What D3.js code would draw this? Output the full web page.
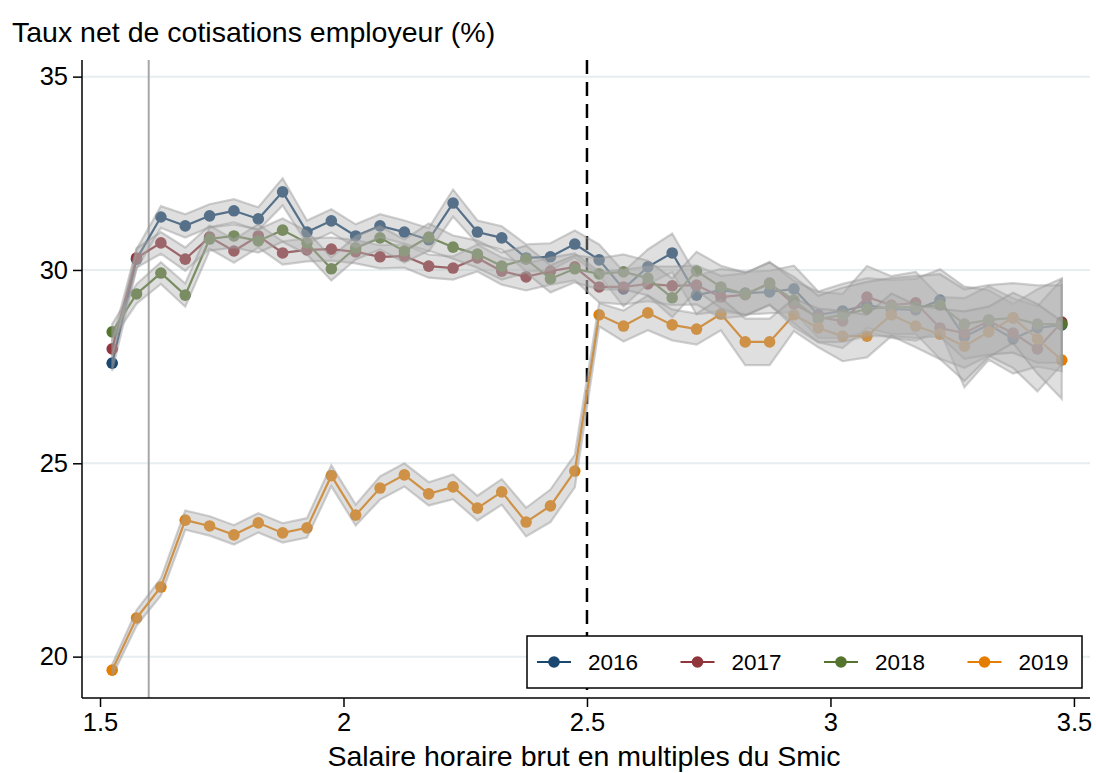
<!DOCTYPE html>
<html lang="fr">
<head>
<meta charset="UTF-8">
<title>Taux net de cotisations employeur</title>
<script src="https://d3js.org/d3.v7.min.js"></script>
<style>
  body { margin: 0; background: #fff; }
  svg text { font-family: "Liberation Sans", Arial, sans-serif; fill: #000; }
</style>
</head>
<body>
<svg width="1096" height="773"></svg>
<script>
// multiples du Smic (centres des tranches)
const salaire = [1.525, 1.575, 1.625, 1.675, 1.725, 1.775, 1.825, 1.875, 1.925, 1.975,
                 2.025, 2.075, 2.125, 2.175, 2.225, 2.275, 2.325, 2.375, 2.425, 2.475,
                 2.525, 2.575, 2.625, 2.675, 2.725, 2.775, 2.825, 2.875, 2.925, 2.975,
                 3.025, 3.075, 3.125, 3.175, 3.225, 3.275, 3.325, 3.375, 3.425, 3.475];
const annees = ["2016", "2017", "2018", "2019"];
const couleurs = ["#1a476f", "#90353b", "#55752f", "#e37e00"];

const taux2016 = [27.59, 30.28, 31.37, 31.14, 31.40, 31.53, 31.32, 32.02, 30.98, 31.27,
                  30.88, 31.14, 30.98, 30.78, 31.73, 30.98, 30.83, 30.31, 30.34, 30.67,
                  30.26, 29.51, 30.08, 30.44, 29.35, 29.48, 29.40, 29.43, 29.51, 28.84,
                  28.94, 29.09, 28.99, 28.97, 29.22, 28.27, 28.58, 28.22, 28.50, 28.58];
const taux2017 = [27.96, 30.31, 30.70, 30.28, 30.85, 30.49, 30.88, 30.44, 30.52, 30.54,
                  30.47, 30.34, 30.36, 30.10, 30.05, 30.31, 29.97, 29.82, 29.97, 30.08,
                  29.56, 29.56, 29.64, 29.59, 29.61, 29.30, 29.36, 29.66, 29.12, 28.78,
                  28.68, 29.30, 29.09, 29.15, 28.50, 28.37, 28.68, 28.37, 27.96, 28.65];
const taux2018 = [28.40, 29.38, 29.92, 29.35, 30.80, 30.88, 30.75, 31.03, 30.70, 30.03,
                  30.57, 30.83, 30.49, 30.85, 30.59, 30.41, 30.10, 30.28, 29.77, 30.03,
                  29.90, 29.95, 29.79, 29.28, 29.97, 29.56, 29.38, 29.64, 29.22, 28.73,
                  28.84, 28.99, 29.04, 29.04, 29.09, 28.60, 28.71, 28.76, 28.60, 28.60];
const taux2019 = [19.65, 21.00, 21.80, 23.53, 23.38, 23.15, 23.46, 23.20, 23.33, 24.68,
                  23.66, 24.36, 24.70, 24.21, 24.39, 23.84, 24.26, 23.48, 23.90, 24.80,
                  28.84, 28.55, 28.89, 28.58, 28.47, 28.86, 28.14, 28.14, 28.84, 28.50,
                  28.29, 28.29, 28.84, 28.55, 28.34, 28.03, 28.40, 28.76, 28.22, 27.67];

// demi-largeurs des intervalles de confiance
const ic2016 = [0.20, 0.25, 0.28, 0.30, 0.30, 0.30, 0.30, 0.35, 0.30, 0.30,
                0.30, 0.30, 0.30, 0.30, 0.35, 0.30, 0.30, 0.35, 0.35, 0.35,
                0.40, 0.45, 0.45, 0.50, 0.50, 0.55, 0.55, 0.55, 0.60, 0.60,
                0.70, 0.70, 0.75, 0.80, 0.80, 1.30, 0.90, 0.90, 1.00, 1.20];
const ic2017 = [0.20, 0.25, 0.28, 0.30, 0.30, 0.30, 0.30, 0.30, 0.30, 0.30,
                0.30, 0.30, 0.30, 0.30, 0.30, 0.35, 0.35, 0.35, 0.35, 0.35,
                0.40, 0.45, 0.45, 0.50, 0.50, 0.55, 0.55, 0.55, 0.60, 0.65,
                0.70, 0.80, 0.75, 0.80, 0.80, 0.90, 0.90, 0.90, 1.10, 1.10];
const ic2018 = [0.20, 0.25, 0.28, 0.30, 0.30, 0.30, 0.30, 0.30, 0.30, 0.30,
                0.30, 0.30, 0.30, 0.35, 0.30, 0.35, 0.35, 0.35, 0.35, 0.35,
                0.40, 0.45, 0.45, 0.50, 0.50, 0.55, 0.55, 0.55, 0.60, 0.60,
                0.70, 0.70, 0.75, 0.80, 0.80, 0.90, 0.90, 0.90, 1.00, 1.00];
const ic2019 = [0.15, 0.20, 0.22, 0.25, 0.25, 0.25, 0.25, 0.25, 0.25, 0.27,
                0.27, 0.30, 0.30, 0.30, 0.32, 0.32, 0.33, 0.37, 0.42, 0.42,
                0.30, 0.40, 0.45, 0.40, 0.40, 0.42, 0.60, 0.60, 0.42, 0.50,
                0.65, 0.55, 0.55, 0.55, 0.65, 0.90, 0.65, 0.65, 0.90, 1.00];

const xTicks = [1.5, 2, 2.5, 3, 3.5];
const yTicks = [20, 25, 30, 35];
const seuilBas = 1.6;
const seuilHaut = 2.5;

const series = [
  {annee: annees[0], couleur: couleurs[0], y: taux2016, ic: ic2016},
  {annee: annees[1], couleur: couleurs[1], y: taux2017, ic: ic2017},
  {annee: annees[2], couleur: couleurs[2], y: taux2018, ic: ic2018},
  {annee: annees[3], couleur: couleurs[3], y: taux2019, ic: ic2019}
];

const width = 1096, height = 773;
const margin = {top: 60, right: 6, bottom: 75, left: 82};

const svg = d3.select("svg");

const x = d3.scaleLinear()
    .domain([1.463, 3.533])
    .range([margin.left, width - margin.right]);
const y = d3.scaleLinear()
    .domain([18.93, 35.43])
    .range([height - margin.bottom, margin.top]);

// grille
svg.append("g")
  .selectAll("line")
  .data(yTicks)
  .join("line")
    .attr("x1", margin.left).attr("x2", width - margin.right)
    .attr("y1", d => y(d)).attr("y2", d => y(d))
    .attr("stroke", "#e6eef0")
    .attr("stroke-width", 2);

// seuils verticaux
svg.append("line")
    .attr("x1", x(seuilBas)).attr("x2", x(seuilBas))
    .attr("y1", margin.top).attr("y2", height - margin.bottom)
    .attr("stroke", "#a6a6a6").attr("stroke-width", 2);
svg.append("line")
    .attr("x1", x(seuilHaut)).attr("x2", x(seuilHaut))
    .attr("y1", margin.top).attr("y2", height - margin.bottom)
    .attr("stroke", "#000").attr("stroke-width", 2.5)
    .attr("stroke-dasharray", "14,8");

const line = d3.line()
    .x((d, i) => x(salaire[i]))
    .y(d => y(d));

const area = d3.area()
    .x((d, i) => x(salaire[i]))
    .y0(d => y(d.lo))
    .y1(d => y(d.hi));

// courbes et points
series.forEach(s => {
  const g = svg.append("g");
  g.append("path")
    .datum(s.y)
    .attr("fill", "none")
    .attr("stroke", s.couleur)
    .attr("stroke-width", 2.2)
    .attr("d", line);
  g.selectAll("circle")
    .data(s.y)
    .join("circle")
      .attr("cx", (d, i) => x(salaire[i]))
      .attr("cy", d => y(d))
      .attr("r", 5.8)
      .attr("fill", s.couleur);
});

// intervalles de confiance par-dessus
series.forEach(s => {
  const band = s.y.map((v, i) => ({lo: v - s.ic[i], hi: v + s.ic[i]}));
  svg.append("path")
    .datum(band)
    .attr("fill", "rgb(175,175,175)")
    .attr("fill-opacity", 0.4)
    .attr("stroke", "rgb(150,150,150)")
    .attr("stroke-opacity", 0.45)
    .attr("stroke-width", 2.2)
    .attr("d", area);
});

// axes
const xAxis = svg.append("g")
    .attr("transform", `translate(0,${height - margin.bottom})`)
    .call(d3.axisBottom(x).tickValues(xTicks).tickSize(9).tickPadding(6)
      .tickFormat(d3.format("")));
const yAxis = svg.append("g")
    .attr("transform", `translate(${margin.left},0)`)
    .call(d3.axisLeft(y).tickValues(yTicks).tickSize(9).tickPadding(5));

[xAxis, yAxis].forEach(a => {
  a.select(".domain").attr("stroke", "#000").attr("stroke-width", 1.5);
  a.selectAll(".tick line").attr("stroke", "#000").attr("stroke-width", 1.5);
  a.selectAll(".tick text")
    .attr("font-family", "Liberation Sans, Arial, sans-serif")
    .attr("font-size", 25.5);
});
xAxis.select(".domain").attr("d", `M${margin.left},0H${width - margin.right}`);
yAxis.select(".domain").attr("d", `M0,${margin.top}V${height - margin.bottom}`);

// titres
svg.append("text")
    .attr("x", 12).attr("y", 42)
    .attr("font-size", 28.5)
    .text("Taux net de cotisations employeur (%)");
svg.append("text")
    .attr("x", 584).attr("y", 766)
    .attr("text-anchor", "middle")
    .attr("font-size", 28.5)
    .text("Salaire horaire brut en multiples du Smic");

// légende
const leg = svg.append("g");
leg.append("rect")
    .attr("x", 527).attr("y", 636)
    .attr("width", 555).attr("height", 52)
    .attr("fill", "#fff").attr("stroke", "#000").attr("stroke-width", 1.5);
series.forEach((s, i) => {
  const lx = 537 + i * 143.5, ly = 662;
  leg.append("line")
    .attr("x1", lx).attr("x2", lx + 34)
    .attr("y1", ly).attr("y2", ly)
    .attr("stroke", s.couleur).attr("stroke-width", 2.2);
  leg.append("circle")
    .attr("cx", lx + 17).attr("cy", ly).attr("r", 5.8)
    .attr("fill", s.couleur);
  leg.append("text")
    .attr("x", lx + 51).attr("y", ly + 8)
    .attr("font-size", 22.5)
    .text(s.annee);
});
</script>
</body>
</html>
